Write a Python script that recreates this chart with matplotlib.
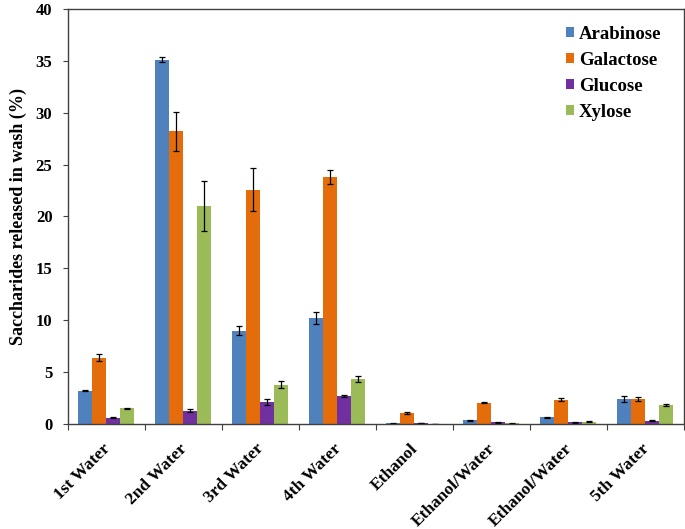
import matplotlib
matplotlib.use("Agg")
import matplotlib.pyplot as plt
import matplotlib.transforms as mtransforms
import numpy as np

categories = ["1st Water", "2nd Water", "3rd Water", "4th Water", "Ethanol",
              "Ethanol/Water", "Ethanol/Water", "5th Water"]
series = ["Arabinose", "Galactose", "Glucose", "Xylose"]
arabinose = [3.2, 35.1, 9.0, 10.2, 0.05, 0.35, 0.65, 2.4]
galactose = [6.4, 28.2, 22.6, 23.8, 1.1, 2.05, 2.35, 2.4]
glucose = [0.6, 1.3, 2.1, 2.7, 0.1, 0.15, 0.15, 0.3]
xylose = [1.5, 21.0, 3.8, 4.3, 0.0, 0.05, 0.2, 1.8]
arabinose_err = [0.05, 0.25, 0.45, 0.6, 0.02, 0.05, 0.05, 0.25]
galactose_err = [0.3, 1.9, 2.1, 0.7, 0.1, 0.07, 0.12, 0.2]
glucose_err = [0.05, 0.15, 0.3, 0.1, 0.03, 0.03, 0.03, 0.05]
xylose_err = [0.05, 2.4, 0.3, 0.3, 0.0, 0.02, 0.05, 0.1]
yticks = [0, 5, 10, 15, 20, 25, 30, 35, 40]

colors = ["#4F81BD", "#E46C0A", "#7030A0", "#9BBB59"]
values = [arabinose, galactose, glucose, xylose]
errs = [arabinose_err, galactose_err, glucose_err, xylose_err]

plt.rcParams['font.family'] = ['Liberation Serif', 'DejaVu Serif']
plt.rcParams['font.weight'] = 'bold'

fig = plt.figure(figsize=(6.85, 5.29), dpi=100)
ax = fig.add_axes([0.099, 0.1985, 0.8995, 0.7845])

x = np.arange(len(categories))
w = 0.182
for i, (name, vals, er, c) in enumerate(zip(series, values, errs, colors)):
    ax.bar(x + (i - 1.5) * w, vals, w, color=c, label=name,
           yerr=er, capsize=2.5, error_kw=dict(ecolor='black', elinewidth=0.9, capthick=0.9))

ax.set_xlim(-0.5, len(categories) - 0.5)
ax.set_ylim(0, 40)
ax.set_yticks(yticks)
ax.set_yticklabels([str(t) for t in yticks], fontsize=12, fontweight='bold')
ax.set_xticks(np.arange(len(categories) + 1) - 0.5, minor=False)
ax.set_xticklabels([])
ax.set_xticks(x, minor=True)
ax.set_xticklabels(categories, minor=True, rotation=45, ha='right', rotation_mode='anchor',
                   fontsize=12.5, fontweight='bold')
ax.tick_params(axis='x', which='minor', length=0, pad=12)
ax.tick_params(axis='x', which='major', direction='out', length=4, color='#404040')
ax.tick_params(axis='y', direction='out', length=3.6, color='#404040', pad=7.5)
offset = mtransforms.ScaledTranslation(-0.045, 0.0, fig.dpi_scale_trans)
for lab in ax.get_xticklabels(minor=True):
    lab.set_transform(lab.get_transform() + offset)
for s in ax.spines.values():
    s.set_color('#404040')
    s.set_linewidth(1.0)

ax.set_ylabel("Saccharides released in wash (%)", fontsize=13, fontweight='bold')
ax.yaxis.set_label_coords(-0.067, 0.5)

leg = ax.legend(loc='upper left', frameon=False, fontsize=13.5, handlelength=0.45,
                handleheight=0.45, handletextpad=0.25, labelspacing=0.475,
                borderpad=0, borderaxespad=0,
                bbox_to_anchor=((565 - 68) / 615, 0.959))
for t in leg.get_texts():
    t.set_fontweight('bold')

fig.savefig("out.png", dpi=100)
